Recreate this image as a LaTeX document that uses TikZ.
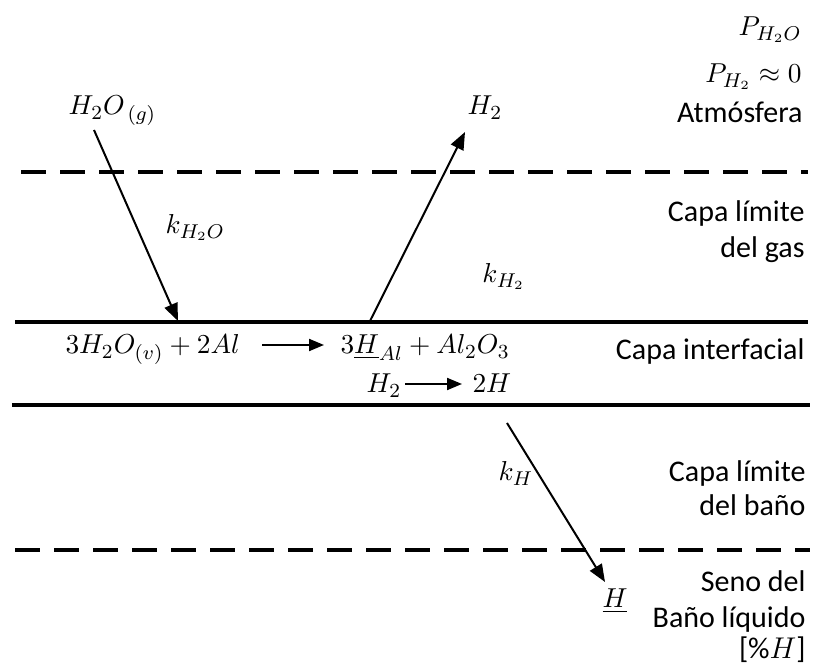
\documentclass[tikz,border=0pt]{standalone}
\usepackage{fontspec}
\setmainfont{Carlito}
\usetikzlibrary{arrows.meta}
\begin{document}
\begin{tikzpicture}[x=0.4pt,y=-0.4pt,
  font=\fontsize{12}{14.6}\selectfont,
  boundary/.style={line width=1.6pt},
  phase/.style={line width=1.6pt, dash pattern=on 10pt off 5.6pt},
  flux/.style={line width=0.8pt, -{Triangle[length=7pt,width=5.5pt]}},
  rxn/.style={line width=0.8pt, -{Triangle[length=6pt,width=4.8pt]}},
  mlbl/.style={inner sep=0pt, anchor=base, font=\fontsize{11}{13}\selectfont},
  zone/.style={anchor=base east, inner sep=0pt}]
\useasboundingbox (0,0) rectangle (822,671);
% layer lines
\coordinate (d1l) at (21,172);  \coordinate (d1r) at (808,172);
\coordinate (s1l) at (15,322);  \coordinate (s1r) at (808,322);
\coordinate (s2l) at (12,405);  \coordinate (s2r) at (810,405);
\coordinate (d2l) at (15,550);  \coordinate (d2r) at (810,550);
\draw[phase] (d1l) -- (d1r);
\draw[boundary] (s1l) -- (s1r);
\draw[boundary] (s2l) -- (s2r);
\draw[phase] (d2l) -- (d2r);
% zone labels
\node[mlbl, anchor=base east] (pw) at (802,36) {$P_{H_2O}$};
\node[mlbl, anchor=base east] (ph) at (802,83) {$P_{H_2}\approx 0$};
\node[zone] (atm) at (803,123) {Atmósfera};
\node[zone] (gas1) at (805,222) {Capa límite};
\node[zone] (gas2) at (805,258) {del gas};
\node[zone] (int) at (805,360) {Capa interfacial};
\node[zone] (bath1) at (806,482) {Capa límite};
\node[zone] (bath2) at (806,516) {del baño};
\node[zone] (bulk1) at (806,592) {Seno del};
\node[zone] (bulk2) at (806,628) {Baño líquido};
\node[zone] (bulk3) at (806,659) {[\%$H$]};
% species
\node[mlbl, anchor=base west] (h2og) at (68,115) {$H_2O_{\,(g)}$};
\node[mlbl, anchor=base west] (h2top) at (467,115) {$H_2$};
\node[mlbl, anchor=base west] (kh2o) at (165,234) {$k_{H_2O}$};
\node[mlbl, anchor=base west] (kh2) at (482,283) {$k_{H_2}$};
\node[mlbl, anchor=base west] (kh) at (498,481) {$k_{H}$};
\node[mlbl, anchor=base west] (hbar) at (602,608) {$\underline{H}$};
% reactions
\node[mlbl, anchor=base west] (r1) at (65,354) {$3H_2O_{(v)}+2Al$};
\node[mlbl, anchor=base west] (r2) at (340,354) {$3\underline{H}_{Al}+Al_2O_3$};
\node[mlbl, anchor=base west] (r3) at (366,393) {$H_2$};
\node[mlbl, anchor=base west] (r4) at (472,393) {$2H$};
\coordinate (a1s) at (262,345); \coordinate (a1e) at (324,345);
\coordinate (a2s) at (405,384); \coordinate (a2e) at (462,384);
\draw[rxn] (a1s) -- (a1e);
\draw[rxn] (a2s) -- (a2e);
% fluxes
\coordinate (f1s) at (94,130);  \coordinate (f1e) at (178,321);
\coordinate (f2s) at (370,321); \coordinate (f2e) at (465,132);
\coordinate (f3s) at (507,423); \coordinate (f3e) at (605,582);
\draw[flux] (f1s) -- (f1e);
\draw[flux] (f2s) -- (f2e);
\draw[flux] (f3s) -- (f3e);
\end{tikzpicture}
\end{document}
